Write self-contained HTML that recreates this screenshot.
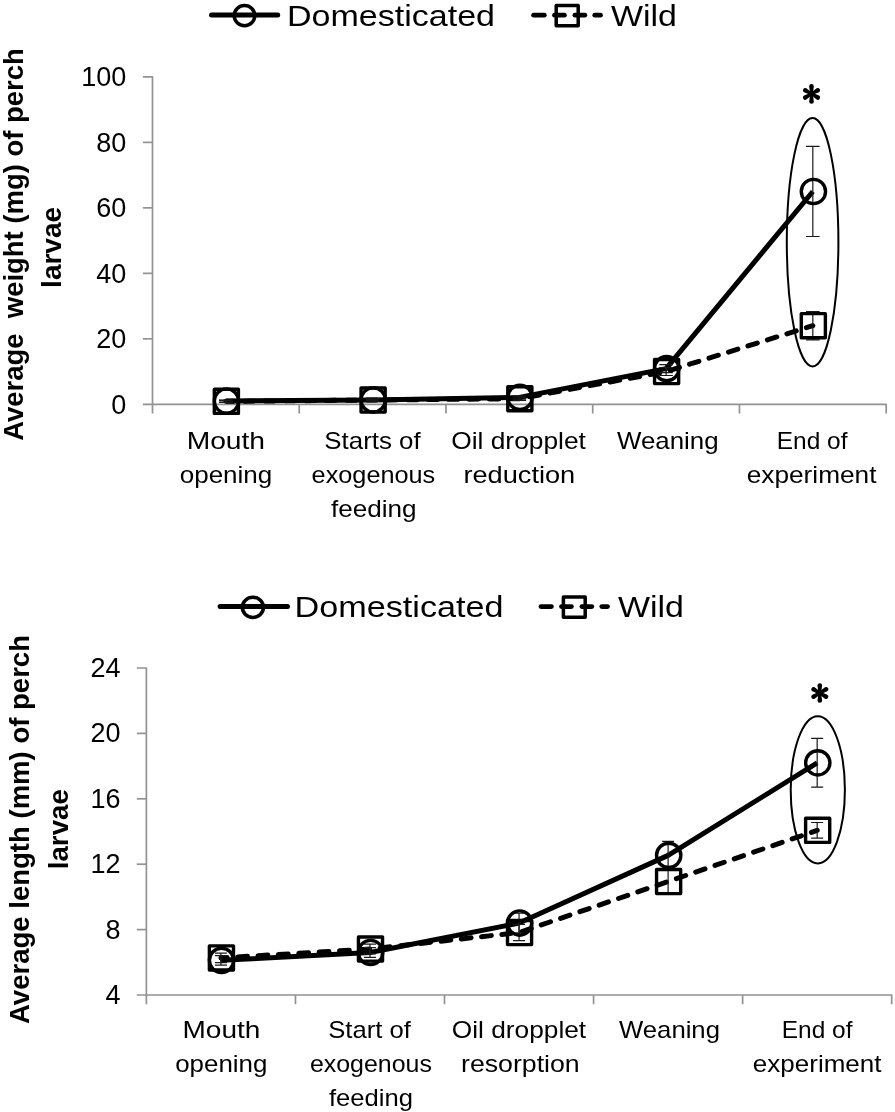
<!DOCTYPE html>
<html><head><meta charset="utf-8"><title>Perch larvae growth</title>
<style>html,body{margin:0;padding:0;background:#fff}svg{display:block;filter:blur(0.6px)}text{font-family:"Liberation Sans", sans-serif;fill:#000}</style>
</head><body>
<svg width="895" height="1112" viewBox="0 0 895 1112">
<rect width="895" height="1112" fill="#fff"/>
<g stroke="#929292" stroke-width="1.7" fill="none" stroke-linecap="butt">
<path d="M142.90 76.90H152.50V413.50" stroke-linejoin="round"/>
<path d="M142.90 404.30H886.20V413.50" stroke-linejoin="round"/>
<path d="M142.90 142.38H152.50"/>
<path d="M142.90 207.86H152.50"/>
<path d="M142.90 273.34H152.50"/>
<path d="M142.90 338.82H152.50"/>
<path d="M299.24 404.30V413.50"/>
<path d="M445.98 404.30V413.50"/>
<path d="M592.72 404.30V413.50"/>
<path d="M739.46 404.30V413.50"/>
</g>
<text x="126.40" y="86.10" font-size="27" text-anchor="end">100</text>
<text x="126.40" y="151.58" font-size="27" text-anchor="end">80</text>
<text x="126.40" y="217.06" font-size="27" text-anchor="end">60</text>
<text x="126.40" y="282.54" font-size="27" text-anchor="end">40</text>
<text x="126.40" y="348.02" font-size="27" text-anchor="end">20</text>
<text x="126.40" y="413.50" font-size="27" text-anchor="end">0</text>
<path d="M225.87 401.35 L372.61 400.04 L519.35 398.73 L666.09 371.56 L812.83 325.72" fill="none" stroke="#000" stroke-width="5.0" stroke-linecap="round" stroke-linejoin="round" stroke-dasharray="9.8 10.6" stroke-dashoffset="1.9"/>
<path d="M225.87 401.03 L372.61 399.88 L519.35 397.42 L666.09 368.61 L812.83 191.49" fill="none" stroke="#000" stroke-width="5.0" stroke-linecap="butt" stroke-linejoin="round"/>
<g stroke="#1a1a1a" stroke-width="1.2" fill="none">
<path d="M225.87 400.04V402.01M219.07 400.04h13.60M219.07 402.01h13.60"/>
<path d="M372.61 398.90V400.86M365.81 398.90h13.60M365.81 400.86h13.60"/>
<path d="M519.35 395.79V399.06M512.55 395.79h13.60M512.55 399.06h13.60"/>
<path d="M666.09 364.68V372.54M659.29 364.68h13.60M659.29 372.54h13.60"/>
<path d="M812.83 146.47V236.51M806.03 146.47h13.60M806.03 236.51h13.60"/>
<path d="M225.87 400.37V402.34M219.07 400.37h13.60M219.07 402.34h13.60"/>
<path d="M372.61 399.06V401.03M365.81 399.06h13.60M365.81 401.03h13.60"/>
<path d="M519.35 397.10V400.37M512.55 397.10h13.60M512.55 400.37h13.60"/>
<path d="M666.09 367.63V375.49M659.29 367.63h13.60M659.29 375.49h13.60"/>
<path d="M812.83 311.65V339.80M806.03 311.65h13.60M806.03 339.80h13.60"/>
</g>
<g stroke="#000" stroke-width="3.4" fill="none" stroke-linejoin="round">
<rect x="214.32" y="389.30" width="24.1" height="24.1"/>
<circle cx="226.47" cy="401.03" r="12.15"/>
<rect x="361.06" y="387.99" width="24.1" height="24.1"/>
<circle cx="373.21" cy="399.88" r="12.15"/>
<rect x="507.80" y="386.68" width="24.1" height="24.1"/>
<circle cx="519.95" cy="397.42" r="12.15"/>
<rect x="654.54" y="359.51" width="24.1" height="24.1"/>
<circle cx="666.69" cy="368.61" r="12.15"/>
<rect x="801.28" y="313.67" width="24.1" height="24.1"/>
<circle cx="813.43" cy="191.49" r="12.15"/>
</g>
<ellipse cx="812.6" cy="242.2" rx="25.8" ry="124.2" fill="none" stroke="#000" stroke-width="2.0"/>
<g fill="#000"><path d="M812.80 93.90L813.80 86.40A2.3 2.3 0 0 0 809.20 86.40L810.20 93.90Z"/><path d="M812.15 95.03L818.97 92.24A2.3 2.3 0 0 0 816.67 88.26L810.85 92.77Z"/><path d="M810.85 95.03L816.67 99.54A2.3 2.3 0 0 0 818.97 95.56L812.15 92.77Z"/><path d="M810.20 93.90L809.20 101.40A2.3 2.3 0 0 0 813.80 101.40L812.80 93.90Z"/><path d="M810.85 92.77L804.03 95.56A2.3 2.3 0 0 0 806.33 99.54L812.15 95.03Z"/><path d="M812.15 92.77L806.33 88.26A2.3 2.3 0 0 0 804.03 92.24L810.85 95.03Z"/><circle cx="811.50" cy="93.90" r="2.4"/></g>
<path d="M211.50 15.0H277.70" stroke="#000" stroke-width="5" stroke-linecap="round"/>
<ellipse cx="244.5" cy="15.6" rx="10.3" ry="10.2" fill="none" stroke="#000" stroke-width="3.5"/>
<text x="287.00" y="25.80" font-size="30" text-anchor="start" textLength="208.00" lengthAdjust="spacingAndGlyphs">Domesticated</text>
<g stroke="#000" stroke-width="4.8" stroke-linecap="round">
<path d="M533.60 15.2H544.30"/>
<path d="M554.50 15.2H564.40"/>
<path d="M574.90 15.2H584.80"/>
<path d="M594.80 15.2H600.50"/>
</g>
<rect x="556.20" y="5.40" width="22.0" height="20.4" fill="none" stroke="#000" stroke-width="3.5" stroke-linejoin="round"/>
<text x="611.00" y="25.80" font-size="30" text-anchor="start" textLength="66.00" lengthAdjust="spacingAndGlyphs">Wild</text>
<text x="225.87" y="449.30" font-size="24" text-anchor="middle" textLength="78.40" lengthAdjust="spacingAndGlyphs">Mouth</text>
<text x="225.97" y="483.20" font-size="24" text-anchor="middle" textLength="92.50" lengthAdjust="spacingAndGlyphs">opening</text>
<text x="372.51" y="449.30" font-size="24" text-anchor="middle" textLength="96.30" lengthAdjust="spacingAndGlyphs">Starts of</text>
<text x="373.41" y="483.20" font-size="24" text-anchor="middle" textLength="123.60" lengthAdjust="spacingAndGlyphs">exogenous</text>
<text x="373.81" y="517.10" font-size="24" text-anchor="middle" textLength="85.60" lengthAdjust="spacingAndGlyphs">feeding</text>
<text x="518.55" y="449.30" font-size="24" text-anchor="middle" textLength="134.60" lengthAdjust="spacingAndGlyphs">Oil dropplet</text>
<text x="519.35" y="483.20" font-size="24" text-anchor="middle" textLength="111.80" lengthAdjust="spacingAndGlyphs">reduction</text>
<text x="667.79" y="449.30" font-size="24" text-anchor="middle" textLength="101.60" lengthAdjust="spacingAndGlyphs">Weaning</text>
<text x="812.13" y="449.30" font-size="24" text-anchor="middle" textLength="70.70" lengthAdjust="spacingAndGlyphs">End of</text>
<text x="811.63" y="483.20" font-size="24" text-anchor="middle" textLength="129.80" lengthAdjust="spacingAndGlyphs">experiment</text>
<text transform="translate(23.00 244.50) rotate(-90)" font-size="28" font-weight="700" text-anchor="middle" textLength="392.60" lengthAdjust="spacingAndGlyphs">Average&#160; weight (mg) of perch</text>
<text transform="translate(61.40 247.40) rotate(-90)" font-size="28" font-weight="700" text-anchor="middle" textLength="81.00" lengthAdjust="spacingAndGlyphs">larvae</text>
<g stroke="#929292" stroke-width="1.7" fill="none" stroke-linecap="butt">
<path d="M136.80 668.00H146.40V1004.20" stroke-linejoin="round"/>
<path d="M136.80 995.00H891.70V1004.20" stroke-linejoin="round"/>
<path d="M136.80 733.40H146.40"/>
<path d="M136.80 798.80H146.40"/>
<path d="M136.80 864.20H146.40"/>
<path d="M136.80 929.60H146.40"/>
<path d="M295.46 995.00V1004.20"/>
<path d="M444.52 995.00V1004.20"/>
<path d="M593.58 995.00V1004.20"/>
<path d="M742.64 995.00V1004.20"/>
</g>
<text x="120.60" y="677.00" font-size="27" text-anchor="end">24</text>
<text x="120.60" y="742.40" font-size="27" text-anchor="end">20</text>
<text x="120.60" y="807.80" font-size="27" text-anchor="end">16</text>
<text x="120.60" y="873.20" font-size="27" text-anchor="end">12</text>
<text x="120.60" y="938.60" font-size="27" text-anchor="end">8</text>
<text x="120.60" y="1004.00" font-size="27" text-anchor="end">4</text>
<path d="M220.93 957.89 L369.99 949.06 L519.05 932.54 L668.11 881.53 L817.17 830.36" fill="none" stroke="#000" stroke-width="5.0" stroke-linecap="round" stroke-linejoin="round" stroke-dasharray="9.8 10.6" stroke-dashoffset="3.6"/>
<path d="M220.93 960.34 L369.99 952.49 L519.05 923.06 L668.11 855.37 L817.17 762.83" fill="none" stroke="#000" stroke-width="5.0" stroke-linecap="butt" stroke-linejoin="round"/>
<g stroke="#1a1a1a" stroke-width="1.2" fill="none">
<path d="M220.93 955.60V965.08M214.93 955.60h12.00M214.93 965.08h12.00"/>
<path d="M369.99 947.59V957.39M363.99 947.59h12.00M363.99 957.39h12.00"/>
<path d="M519.05 913.25V932.87M513.05 913.25h12.00M513.05 932.87h12.00"/>
<path d="M668.11 841.47V869.27M662.11 841.47h12.00M662.11 869.27h12.00"/>
<path d="M817.17 738.47V787.19M811.17 738.47h12.00M811.17 787.19h12.00"/>
<path d="M220.93 953.14V962.63M214.93 953.14h12.00M214.93 962.63h12.00"/>
<path d="M369.99 944.15V953.96M363.99 944.15h12.00M363.99 953.96h12.00"/>
<path d="M519.05 924.37V940.72M513.05 924.37h12.00M513.05 940.72h12.00"/>
<path d="M668.11 870.09V892.98M662.11 870.09h12.00M662.11 892.98h12.00"/>
<path d="M817.17 822.51V838.20M811.17 822.51h12.00M811.17 838.20h12.00"/>
</g>
<g stroke="#000" stroke-width="3.4" fill="none" stroke-linejoin="round">
<rect x="209.38" y="945.84" width="24.1" height="24.1"/>
<circle cx="221.53" cy="960.34" r="12.15"/>
<rect x="358.44" y="937.01" width="24.1" height="24.1"/>
<circle cx="370.59" cy="952.49" r="12.15"/>
<rect x="507.50" y="920.49" width="24.1" height="24.1"/>
<circle cx="519.65" cy="923.06" r="12.15"/>
<rect x="656.56" y="869.48" width="24.1" height="24.1"/>
<circle cx="668.71" cy="855.37" r="12.15"/>
<rect x="805.62" y="818.31" width="24.1" height="24.1"/>
<circle cx="817.77" cy="762.83" r="12.15"/>
</g>
<ellipse cx="817.8" cy="789.8" rx="27.1" ry="73.6" fill="none" stroke="#000" stroke-width="2.0"/>
<g fill="#000"><path d="M821.10 693.00L822.10 685.50A2.3 2.3 0 0 0 817.50 685.50L818.50 693.00Z"/><path d="M820.45 694.13L827.27 691.34A2.3 2.3 0 0 0 824.97 687.36L819.15 691.87Z"/><path d="M819.15 694.13L824.97 698.64A2.3 2.3 0 0 0 827.27 694.66L820.45 691.87Z"/><path d="M818.50 693.00L817.50 700.50A2.3 2.3 0 0 0 822.10 700.50L821.10 693.00Z"/><path d="M819.15 691.87L812.33 694.66A2.3 2.3 0 0 0 814.63 698.64L820.45 694.13Z"/><path d="M820.45 691.87L814.63 687.36A2.3 2.3 0 0 0 812.33 691.34L819.15 694.13Z"/><circle cx="819.80" cy="693.00" r="2.4"/></g>
<path d="M220.10 606.5H287.50" stroke="#000" stroke-width="5" stroke-linecap="round"/>
<ellipse cx="252.9" cy="607.3" rx="10.55" ry="10.1" fill="none" stroke="#000" stroke-width="3.5"/>
<text x="294.60" y="617.10" font-size="30" text-anchor="start" textLength="209.00" lengthAdjust="spacingAndGlyphs">Domesticated</text>
<g stroke="#000" stroke-width="4.8" stroke-linecap="round">
<path d="M541.00 606.6H551.40"/>
<path d="M561.50 606.6H571.40"/>
<path d="M581.90 606.6H591.80"/>
<path d="M601.80 606.6H607.50"/>
</g>
<rect x="563.40" y="596.95" width="21.8" height="20.3" fill="none" stroke="#000" stroke-width="3.5" stroke-linejoin="round"/>
<text x="618.00" y="617.10" font-size="30" text-anchor="start" textLength="66.00" lengthAdjust="spacingAndGlyphs">Wild</text>
<text x="221.43" y="1038.00" font-size="24" text-anchor="middle" textLength="77.80" lengthAdjust="spacingAndGlyphs">Mouth</text>
<text x="221.33" y="1071.90" font-size="24" text-anchor="middle" textLength="92.20" lengthAdjust="spacingAndGlyphs">opening</text>
<text x="369.59" y="1038.00" font-size="24" text-anchor="middle" textLength="82.70" lengthAdjust="spacingAndGlyphs">Start of</text>
<text x="370.89" y="1071.90" font-size="24" text-anchor="middle" textLength="121.90" lengthAdjust="spacingAndGlyphs">exogenous</text>
<text x="370.99" y="1105.80" font-size="24" text-anchor="middle" textLength="84.00" lengthAdjust="spacingAndGlyphs">feeding</text>
<text x="518.95" y="1038.00" font-size="24" text-anchor="middle" textLength="134.40" lengthAdjust="spacingAndGlyphs">Oil dropplet</text>
<text x="520.35" y="1071.90" font-size="24" text-anchor="middle" textLength="118.70" lengthAdjust="spacingAndGlyphs">resorption</text>
<text x="669.51" y="1038.00" font-size="24" text-anchor="middle" textLength="100.90" lengthAdjust="spacingAndGlyphs">Weaning</text>
<text x="817.17" y="1038.00" font-size="24" text-anchor="middle" textLength="70.70" lengthAdjust="spacingAndGlyphs">End of</text>
<text x="817.17" y="1071.90" font-size="24" text-anchor="middle" textLength="128.60" lengthAdjust="spacingAndGlyphs">experiment</text>
<text transform="translate(29.40 829.50) rotate(-90)" font-size="28" font-weight="700" text-anchor="middle" textLength="389.00" lengthAdjust="spacingAndGlyphs">Average length (mm) of perch</text>
<text transform="translate(68.00 829.20) rotate(-90)" font-size="28" font-weight="700" text-anchor="middle" textLength="80.00" lengthAdjust="spacingAndGlyphs">larvae</text>
</svg></body></html>
